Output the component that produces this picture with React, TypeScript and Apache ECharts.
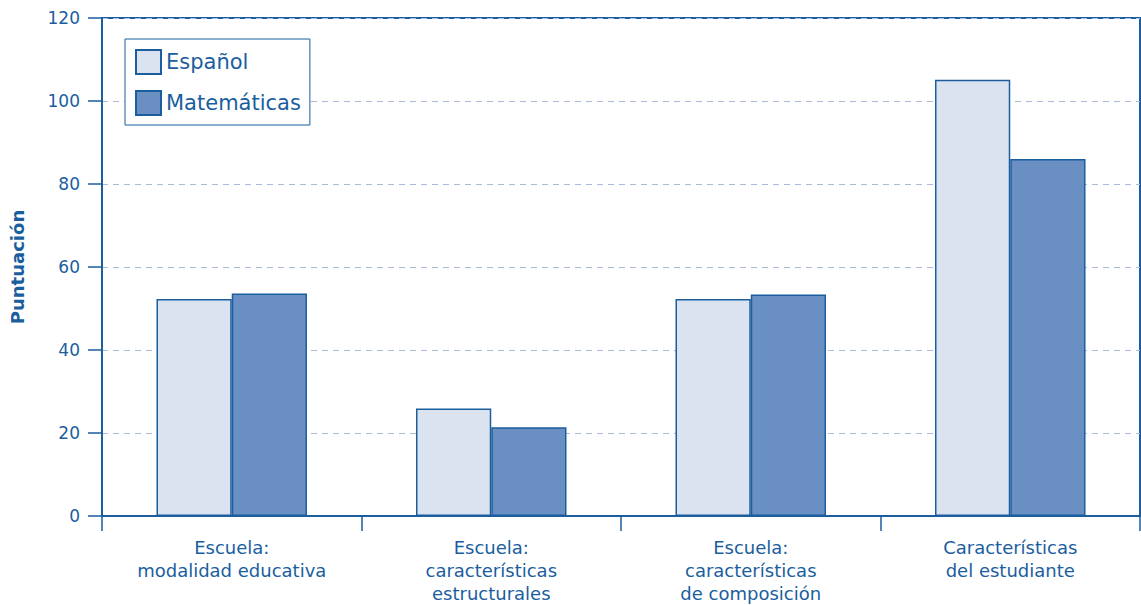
import React, { useEffect, useRef } from "react";
import * as echarts from "echarts";

const categories = [
  "Escuela:\nmodalidad educativa",
  "Escuela:\ncaracterísticas\nestructurales",
  "Escuela:\ncaracterísticas\nde composición",
  "Características\ndel estudiante",
];
const espanol = [52.3, 25.9, 52.3, 105.1];
const matematicas = [53.6, 21.4, 53.4, 86.0];
const yTicks = { min: 0, max: 120, interval: 20 };

const BLUE = "#1a5e9e";
const FONT = "DejaVu Sans";

export default function App() {
  const ref = useRef<HTMLDivElement>(null);
  useEffect(() => {
    if (!ref.current) return;
    const chart = echarts.init(ref.current, undefined, { renderer: "svg" });
    chart.setOption({
      animation: false,
      textStyle: { fontFamily: FONT, color: BLUE },
      grid: {
        left: 102,
        right: 1,
        top: 18,
        bottom: 82,
        show: true,
        borderColor: BLUE,
        borderWidth: 2,
      },
      legend: {
        orient: "vertical",
        left: 125,
        top: 39,
        padding: [10, 9, 9, 10],
        itemWidth: 25,
        itemHeight: 24,
        itemGap: 15,
        icon: "rect",
        borderColor: BLUE,
        borderWidth: 1,
        backgroundColor: "#ffffff",
        textStyle: { fontSize: 21, color: BLUE, fontFamily: FONT },
        data: ["Español", "Matemáticas"],
      },
      xAxis: {
        type: "category",
        data: categories,
        axisLine: { lineStyle: { color: BLUE, width: 2 } },
        axisTick: { show: true, length: 15, lineStyle: { color: BLUE, width: 1.5 } },
        axisLabel: {
          color: BLUE,
          fontSize: 18,
          fontFamily: FONT,
          lineHeight: 23,
          margin: 20,
          interval: 0,
        },
      },
      yAxis: {
        type: "value",
        min: yTicks.min,
        max: yTicks.max,
        interval: yTicks.interval,
        name: "Puntuación",
        nameLocation: "middle",
        nameGap: 76,
        nameTextStyle: { color: BLUE, fontSize: 18, fontWeight: "bold", fontFamily: FONT },
        axisLine: { show: true, lineStyle: { color: BLUE, width: 2 } },
        axisTick: { show: true, length: 14, lineStyle: { color: BLUE, width: 1.5 } },
        axisLabel: { color: BLUE, fontSize: 17, fontFamily: FONT, margin: 22 },
        splitLine: { show: true, lineStyle: { color: "#a9bbd9", type: [6, 5], width: 1 } },
      },
      series: [
        {
          name: "Español",
          type: "bar",
          data: espanol,
          barGap: "0%",
          barCategoryGap: "42%",
          itemStyle: { color: "#dce3f0", borderColor: BLUE, borderWidth: 1.5 },
        },
        {
          name: "Matemáticas",
          type: "bar",
          data: matematicas,
          itemStyle: { color: "#6a8fc2", borderColor: BLUE, borderWidth: 1.5 },
        },
      ],
    });
    return () => chart.dispose();
  }, []);
  return (
    <div
      ref={ref}
      style={{ position: "fixed", left: 0, top: 0, width: 1141, height: 605, background: "#fff" }}
    />
  );
}
